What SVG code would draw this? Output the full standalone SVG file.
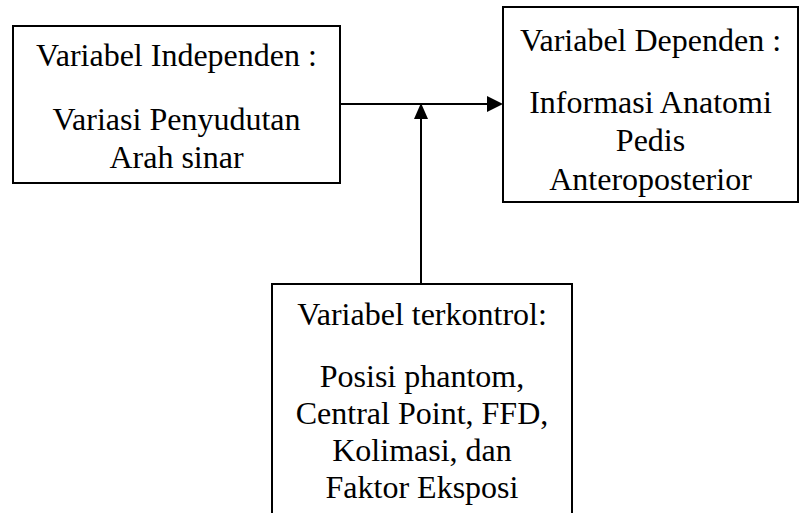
<svg xmlns="http://www.w3.org/2000/svg" width="800" height="513" viewBox="0 0 800 513">
<style>
.box{fill:#fff;stroke:#000;stroke-width:2}
.t{font-size:32px;fill:#000;text-anchor:middle}
.c{stroke:#000;stroke-width:2;fill:none}
.ah{fill:#000}
</style>
<rect width="800" height="513" fill="#fff"/>
<g font-family="Liberation Serif, Times New Roman, serif">
<g id="independen">
<rect class="box" x="13" y="26" width="327" height="157"/>
<text class="t" x="176.5" y="66">Variabel Independen :</text>
<text class="t" x="176.5" y="130">Variasi Penyudutan</text>
<text class="t" x="176.5" y="168">Arah sinar</text>
</g>
<g id="dependen">
<rect class="box" x="503" y="7" width="295" height="195"/>
<text class="t" x="650.5" y="51">Variabel Dependen :</text>
<text class="t" x="650.5" y="113">Informasi Anatomi</text>
<text class="t" x="650.5" y="151">Pedis</text>
<text class="t" x="650.5" y="190">Anteroposterior</text>
</g>
<g id="terkontrol">
<rect class="box" x="272" y="284" width="300" height="240"/>
<text class="t" x="422" y="325">Variabel terkontrol:</text>
<text class="t" x="422" y="387">Posisi phantom,</text>
<text class="t" x="422" y="424">Central Point, FFD,</text>
<text class="t" x="422" y="461">Kolimasi, dan</text>
<text class="t" x="422" y="498">Faktor Eksposi</text>
</g>
</g>
<g id="connectors">
<line class="c" x1="340" y1="104" x2="488" y2="104"/>
<path class="ah" d="M487,96 L503,104 L487,112 z"/>
<line class="c" x1="421" y1="284" x2="421" y2="117"/>
<path class="ah" d="M414,119 L421,103 L428,119 z"/>
</g>
</svg>
